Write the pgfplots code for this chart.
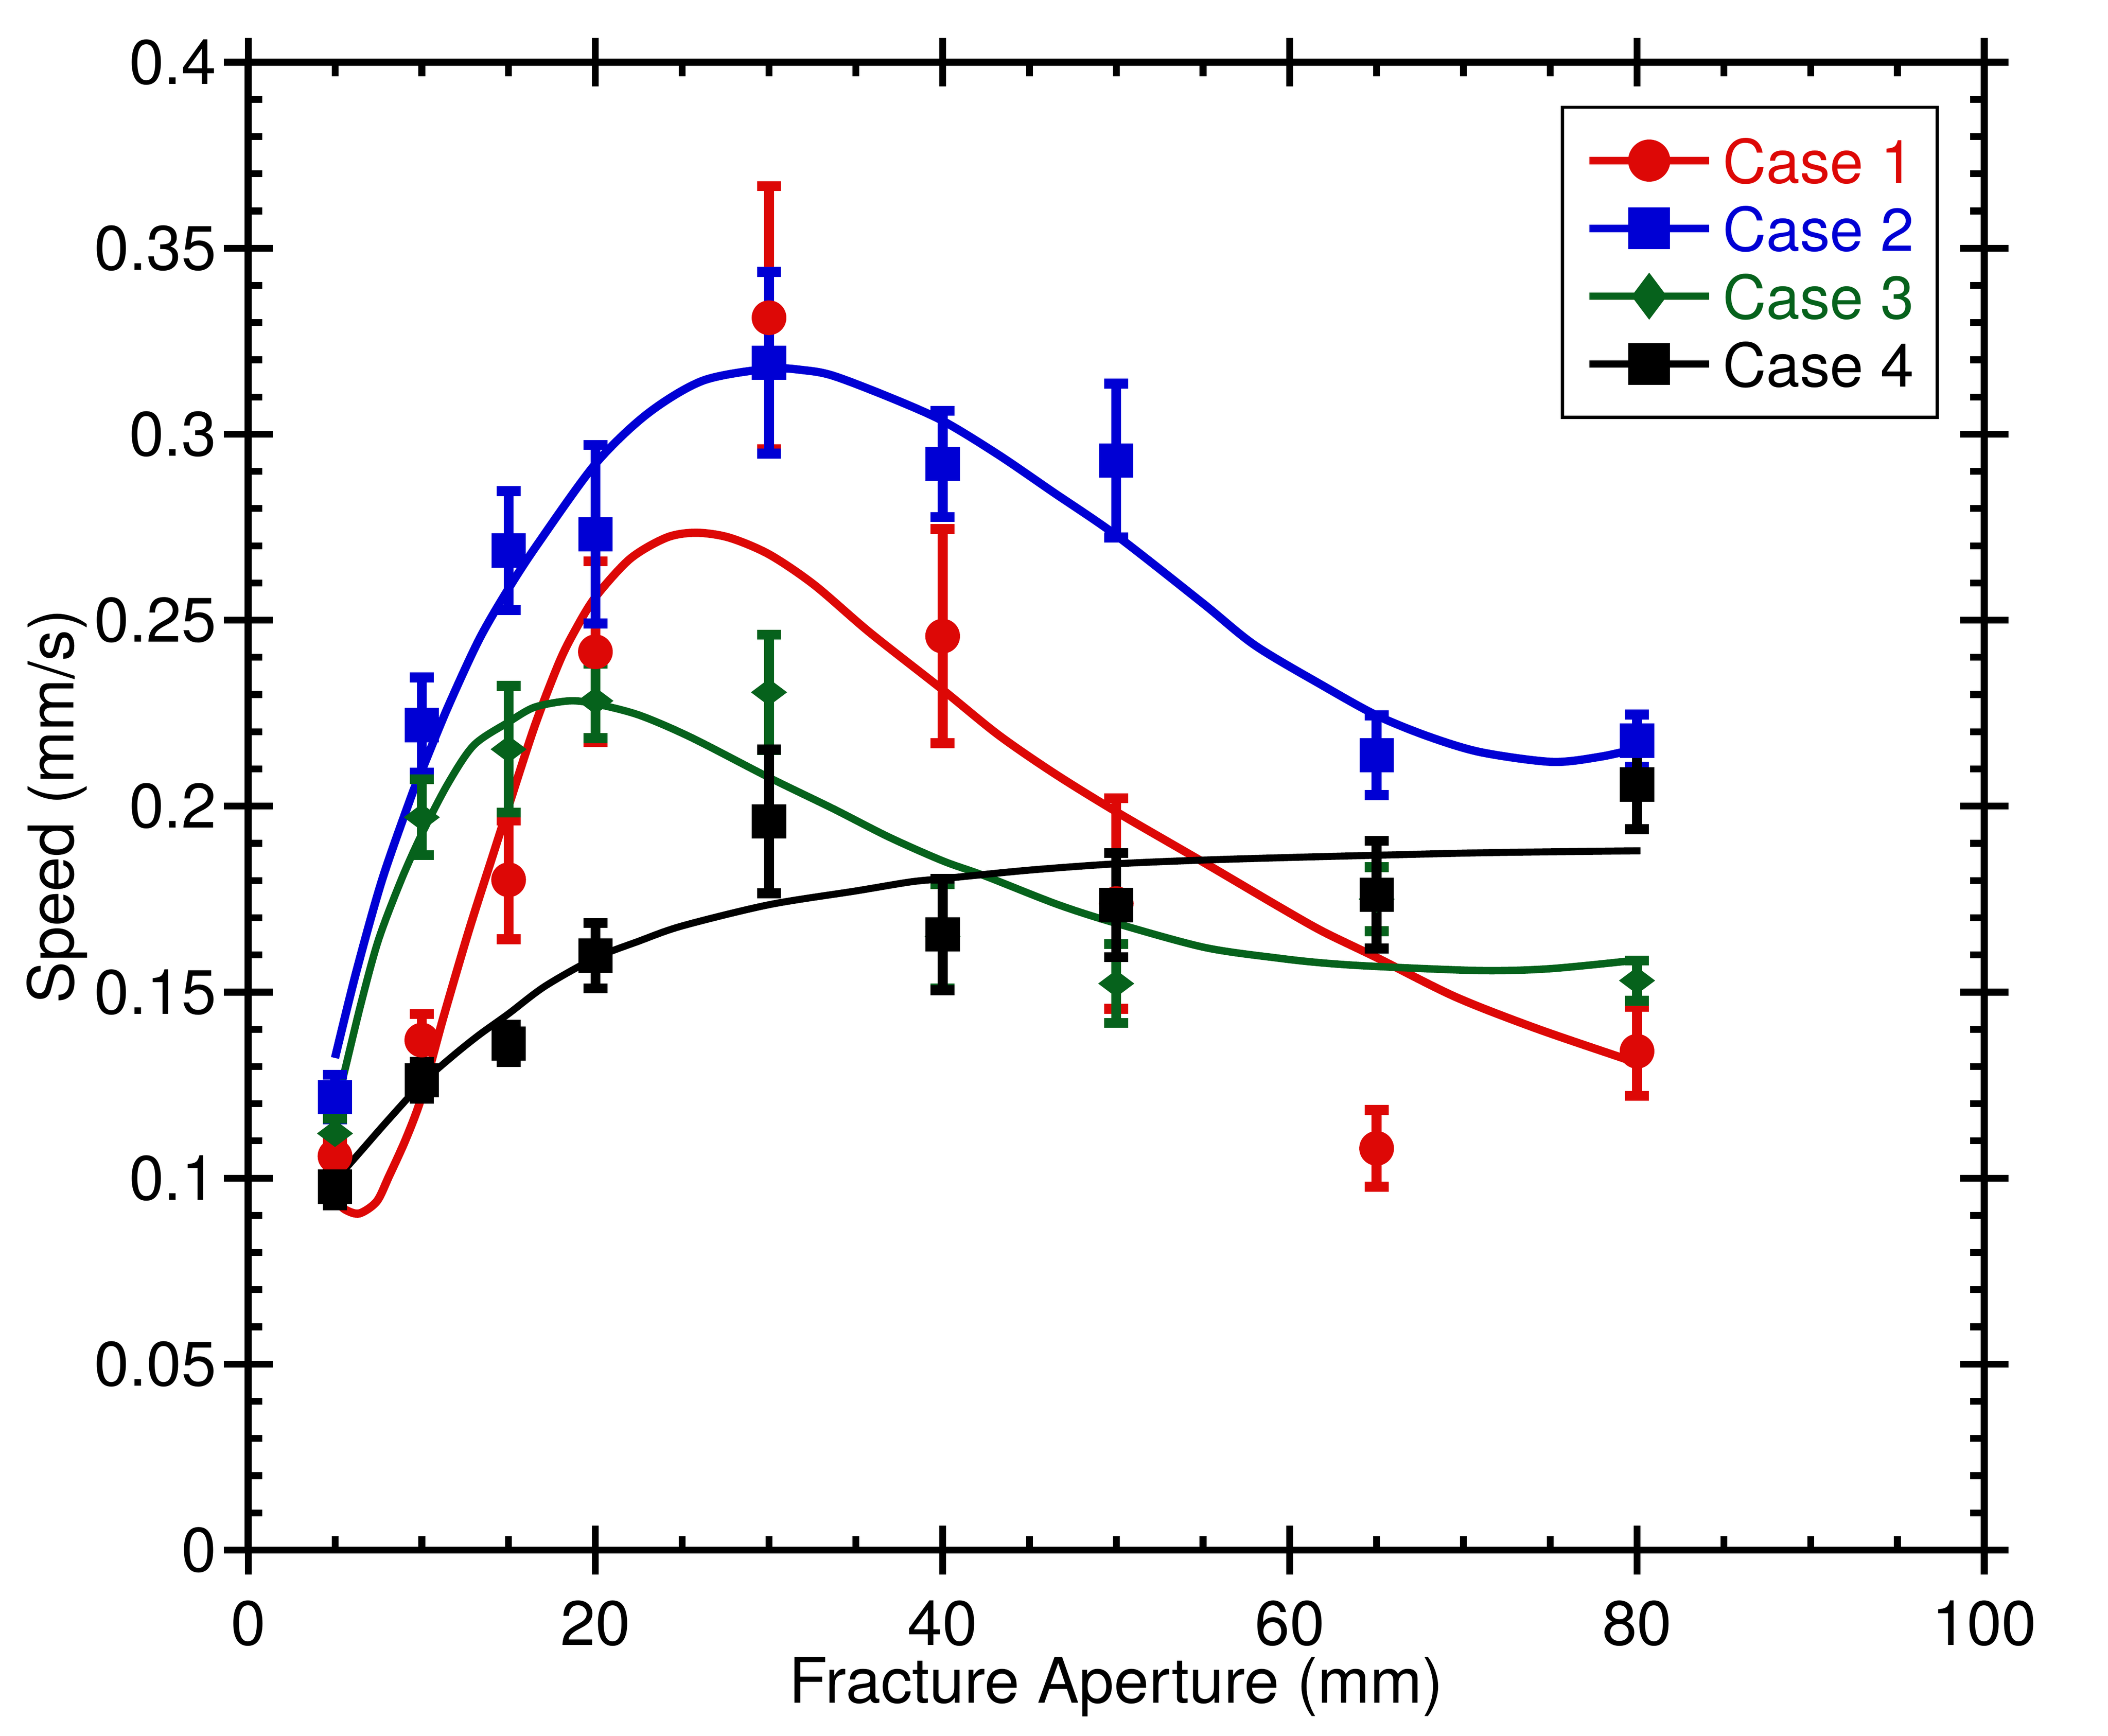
\documentclass[border=0pt]{standalone}
\usepackage{fontspec}
\setmainfont{TeX Gyre Heros}
\usepackage{pgfplots}
\usepackage{pgfplotstable}
\pgfplotsset{compat=1.18}
\definecolor{cred}{RGB}{221,8,6}
\definecolor{cblue}{RGB}{0,0,212}
\definecolor{cgreen}{RGB}{6,98,28}

\pgfplotstableread{
x y e
5 0.1059 0.004
10 0.1371 0.007
15 0.1802 0.016
20 0.2415 0.0243
30 0.3313 0.0354
40 0.2457 0.0288
50 0.1738 0.0283
65 0.1080 0.0103
80 0.1341 0.012
}\caseA
\pgfplotstableread{
x y e
5 0.1218 0.006
10 0.2218 0.0128
15 0.2687 0.016
20 0.2731 0.024
30 0.3192 0.0244
40 0.2920 0.0143
50 0.2929 0.0207
65 0.2137 0.0107
80 0.2176 0.007
}\caseB
\pgfplotstableread{
x y e
5 0.1120 0.004
10 0.1970 0.0102
15 0.2153 0.017
20 0.2283 0.010
30 0.2306 0.0155
40 0.1650 0.014
50 0.1523 0.0106
65 0.1750 0.0086
80 0.1531 0.0054
}\caseC
\pgfplotstableread{
x y e
5 0.0977 0.005
10 0.1263 0.005
15 0.1362 0.005
20 0.1598 0.0088
30 0.1959 0.0193
40 0.1655 0.015
50 0.1734 0.014
65 0.1762 0.0145
80 0.2058 0.012
}\caseD

\pgfplotstableread{
x y
5 0.0940
5.6 0.0915
6.4 0.0905
7.4 0.0937
8.1 0.1004
9.1 0.1107
10 0.1220
11.2 0.1425
12.7 0.1664
14.1 0.1869
15 0.2000
16.5 0.2215
17.9 0.2385
18.8 0.2470
20 0.2562
22 0.2665
24.1 0.2722
25.8 0.2735
27.7 0.2722
30 0.2677
32.6 0.2595
35.8 0.2467
40 0.2313
43.2 0.2192
46.4 0.2089
50 0.1985
55.1 0.1847
59.4 0.1729
61.9 0.1663
65 0.1593
69.5 0.1488
74.1 0.1404
79.1 0.1324
80 0.1310
}\fitA
\pgfplotstableread{
x y
5 0.1323
6.2 0.1550
7.7 0.1800
9.4 0.2027
10 0.2096
11.5 0.2266
13.3 0.2448
15 0.2585
16.65 0.2703
20 0.2920
23 0.3055
26.2 0.3144
30 0.3176
32 0.3172
33.7 0.3157
36.9 0.3100
40 0.3036
43.2 0.2945
46.4 0.2843
50 0.2728
55 0.2545
58 0.2432
61.9 0.2324
65 0.2244
68 0.2187
71 0.2145
75.1 0.2119
77.9 0.2133
80 0.2155
}\fitB
\pgfplotstableread{
x y
5 0.1190
5.44 0.1266
6.5 0.1470
7.5 0.1640
8.8 0.1800
10 0.1925
11.5 0.2060
13 0.2164
15 0.2226
16.5 0.2266
18.5 0.2283
20 0.2275
22.5 0.2245
25.5 0.2185
30 0.2077
33.7 0.1993
36.9 0.1917
40 0.1853
42.4 0.1813
46.6 0.1736
50 0.1685
55.1 0.1620
59.4 0.1591
62 0.1578
65 0.1569
71 0.1558
75 0.1563
80 0.1586
}\fitC
\pgfplotstableread{
x y
5 0.0993
6.5 0.1073
8 0.1153
10 0.1255
11.8 0.1329
13.3 0.1385
15 0.1442
17.1 0.1516
20 0.1592
22.5 0.1637
25 0.1678
30 0.1735
35 0.1772
38.1 0.1796
40 0.1805
45 0.1828
50 0.1845
55 0.1855
60 0.1862
65 0.1868
71.5 0.1875
80.2 0.1880
}\fitD

\begin{document}
\begin{tikzpicture}
\begin{axis}[
  at={(0pt,0pt)}, anchor=south west,
  scale only axis, width=420pt, height=360pt,
  xmin=0, xmax=100, ymin=0, ymax=0.4,
  xtick={0,20,40,60,80,100},
  ytick={0,0.05,0.1,0.15,0.2,0.25,0.3,0.35,0.4},
  minor x tick num=3, minor y tick num=4,
  scaled y ticks=false,
  tick align=inside,
  major tick length=5.9pt, minor tick length=3.4pt,
  tick style={line width=1.65pt, black},
  axis line style={line width=1.7pt},
  extra x ticks={0,20,40,60,80,100}, extra x tick labels={},
  extra y ticks={0,0.05,0.1,0.15,0.2,0.25,0.3,0.35,0.4}, extra y tick labels={},
  extra x tick style={tick align=outside, major tick length=5.9pt},
  extra y tick style={tick align=outside, major tick length=5.9pt},
  /pgf/number format/assume math mode=true,
  tick label style={font=\fontsize{15.2}{18}\selectfont},
  yticklabel style={/pgf/number format/fixed, /pgf/number format/precision=2, inner sep=0pt, xshift=-7.5pt},
  xticklabel style={inner sep=0pt, yshift=-12pt},
  label style={font=\fontsize{15.2}{18}\selectfont},
  xlabel={Fracture Aperture (mm)},
  ylabel={Speed (mm/s)},
  xlabel style={at={(axis description cs:0.5,-0.1028)}, anchor=base, inner sep=0pt},
  ylabel style={at={(axis description cs:-0.1007,0.5)}, anchor=base, inner sep=0pt},
  legend image code/.code={\draw[mark repeat=2,mark phase=2,#1] plot coordinates {(0pt,0pt) (14.5pt,0pt) (29pt,0pt)};},
  legend style={at={(rel axis cs:0.9738,0.9708)}, anchor=north east, draw=black, line width=0.8pt,
    font=\fontsize{14.6}{18}\selectfont, inner xsep=5.6pt, inner ysep=7.4pt, row sep=5.4pt,
    nodes={inner sep=0pt, text height=11pt, text depth=0pt},
    /tikz/every odd column/.style={column sep=2.4pt}},
  legend cell align=left,
]
\addlegendimage{cred, line width=1.8pt, mark=*, mark size=4.2pt, mark options={solid}}
\addlegendentry{\textcolor{cred}{Case 1}}
\addlegendimage{cblue, line width=1.8pt, mark=square*, mark size=4.15pt, mark options={solid}}
\addlegendentry{\textcolor{cblue}{Case 2}}
\addlegendimage{cgreen, line width=1.8pt, mark=diamond*, mark size=4.2pt, mark options={solid}}
\addlegendentry{\textcolor{cgreen}{Case 3}}
\addlegendimage{black, line width=1.8pt, mark=square*, mark size=4.15pt, mark options={solid}}
\addlegendentry{Case 4}

% fitted curves
\addplot[forget plot, cred, line width=2.0pt, smooth, mark=none] table[x=x,y=y]{\fitA};
\addplot[forget plot, cblue, line width=2.0pt, smooth, mark=none] table[x=x,y=y]{\fitB};
\addplot[forget plot, cgreen, line width=1.8pt, smooth, mark=none] table[x=x,y=y]{\fitC};
\addplot[forget plot, black, line width=1.7pt, smooth, mark=none] table[x=x,y=y]{\fitD};

% error bars
\addplot[forget plot, only marks, mark=none, cred,
  error bars/.cd, y dir=both, y explicit, error mark=|,
  error bar style={line width=2.4pt, cred},
  error mark options={line width=2.4pt, mark size=2.9pt, cred}]
  table[x=x,y=y,y error=e]{\caseA};
\addplot[forget plot, only marks, mark=none, cblue,
  error bars/.cd, y dir=both, y explicit, error mark=|,
  error bar style={line width=2.4pt, cblue},
  error mark options={line width=2.4pt, mark size=2.9pt, cblue}]
  table[x=x,y=y,y error=e]{\caseB};
\addplot[forget plot, only marks, mark=none, cgreen,
  error bars/.cd, y dir=both, y explicit, error mark=|,
  error bar style={line width=2.4pt, cgreen},
  error mark options={line width=2.4pt, mark size=2.9pt, cgreen}]
  table[x=x,y=y,y error=e]{\caseC};
\addplot[forget plot, only marks, mark=none, black,
  error bars/.cd, y dir=both, y explicit, error mark=|,
  error bar style={line width=2.4pt, black},
  error mark options={line width=2.4pt, mark size=2.9pt, black}]
  table[x=x,y=y,y error=e]{\caseD};

% markers
\addplot[forget plot, only marks, cred, mark=*, mark size=4.1pt, mark options={solid, line width=0.2pt}] table[x=x,y=y]{\caseA};
\addplot[forget plot, only marks, cblue, mark=square*, mark size=4.05pt, mark options={solid, line width=0.2pt}] table[x=x,y=y]{\caseB};
\addplot[forget plot, only marks, cgreen, mark=diamond*, mark size=4.2pt, mark options={solid, rotate=90, line width=0.2pt}] table[x=x,y=y]{\caseC};
\addplot[forget plot, only marks, black, mark=square*, mark size=4.05pt, mark options={solid, line width=0.2pt}] table[x=x,y=y]{\caseD};
\end{axis}
\pgfresetboundingbox
\useasboundingbox (-60.05pt,-44.95pt) rectangle (449.95pt,375.05pt);
\end{tikzpicture}
\end{document}
